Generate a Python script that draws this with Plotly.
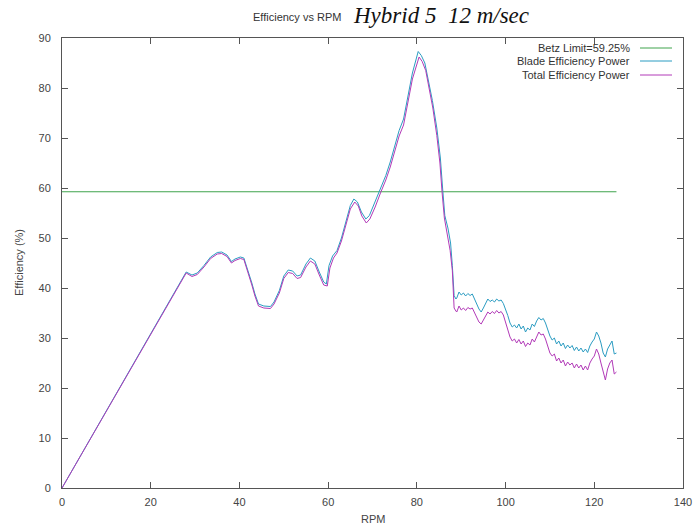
import plotly.graph_objects as go

# ---- data ----
blade_rpm = [0, 28, 29.3, 30.5, 32, 33.5, 35, 36, 37.2, 38.2, 39, 40.2, 41, 42, 42.8, 43.5, 44.3, 45.5, 47,
             47.8, 49, 50, 51, 52, 53, 53.8, 55, 56, 57, 58, 59, 59.6, 60.2, 61, 62, 63, 64, 65, 65.8, 66.6,
             67.5, 68.5, 69.3, 70.5, 71.7, 73, 74, 75, 76, 77, 78, 79, 80.3, 81, 81.8, 82.5, 83.5, 84.5, 85.3,
             85.8, 86.3, 87, 87.6, 88, 88.4, 88.8,
             89.0, 89.5, 90.0, 90.5, 91.0, 91.5, 92.0, 92.5, 93.0, 93.5, 94.0, 94.5, 95.0, 95.5, 96.0, 96.5,
             97.0, 97.5, 98.0, 98.5, 99.0, 99.5, 100.0, 100.5, 101.0, 101.5, 102.0, 102.5, 103.0, 103.5,
             104.0, 104.5, 105.0, 105.5, 106.0, 106.5, 107.0, 107.5, 108.0, 108.5, 109.0, 109.5, 110.0,
             110.5, 111.0, 111.5, 112.0, 112.5, 113.0, 113.5, 114.0, 114.5, 115.0, 115.5, 116.0, 116.5,
             117.0, 117.5, 118.0, 118.5, 119.0, 119.5, 120.0, 120.5, 121.0, 121.5, 122.0, 122.5, 123.0,
             123.5, 124.0, 124.5, 125.0]
blade_eff = [0, 43.2, 42.6, 43.0, 44.5, 46.2, 47.1, 47.2, 46.6, 45.3, 45.8, 46.2, 46.0, 43.4, 41.0, 38.8, 36.8,
             36.4, 36.3, 37.2, 39.5, 42.4, 43.6, 43.4, 42.4, 42.6, 44.8, 46.0, 45.4, 43.2, 41.2, 40.8, 44.5,
             46.4, 47.5, 50.0, 53.5, 56.5, 57.8, 57.2, 55.2, 53.8, 54.5, 57.0, 59.8, 62.5, 65.2, 68.5, 71.5,
             73.8, 78.5, 83.0, 87.3, 86.5, 85.0, 82.0, 77.5, 72.0, 66.0, 60.0, 54.5, 52.0, 49.0, 44.5, 38.5,
             37.8,
             38.0, 39.2, 38.6, 39.0, 38.4, 38.9, 38.5, 38.8, 37.6, 36.8, 35.8, 35.2, 36.0, 37.0, 37.8, 37.3,
             37.6, 37.2, 37.8, 37.4, 37.6, 36.9, 35.8, 34.5, 33.0, 32.2, 32.6, 32.0, 32.8, 31.8,
             32.4, 31.2, 32.0, 31.6, 32.8, 32.3, 33.4, 34.1, 33.6, 33.9, 33.0, 31.6, 30.4,
             29.6, 30.0, 28.8, 29.4, 28.4, 29.0, 27.9, 28.6, 28.0, 28.5, 27.5, 28.2, 27.4,
             28.0, 27.2, 27.8, 27.1, 28.4, 29.2, 29.8, 31.2, 30.4, 29.0, 27.0, 26.2, 27.8,
             28.6, 29.4, 26.8, 27.0]

total_rpm = [0, 28, 29.3, 30.5, 32, 33.5, 35, 36, 37.2, 38.2, 39, 40.2, 41, 42, 42.8, 43.5, 44.3, 45.5, 47,
             47.8, 49, 50, 51, 52, 53, 53.8, 55, 56, 57, 58, 59, 59.8, 60.4, 61.2, 62, 63, 64, 65, 66, 66.8,
             67.6, 68.6, 69.4, 70.6, 71.8, 73, 74, 75, 76, 77, 78, 79, 80.5, 81.2, 82, 82.7, 83.6, 84.5, 85.2,
             85.7, 86.2, 86.8, 87.5, 88, 88.4, 88.8,
             89.0, 89.5, 90.0, 90.5, 91.0, 91.5, 92.0, 92.5, 93.0, 93.5, 94.0, 94.5, 95.0, 95.5, 96.0, 96.5,
             97.0, 97.5, 98.0, 98.5, 99.0, 99.5, 100.0, 100.5, 101.0, 101.5, 102.0, 102.5, 103.0, 103.5,
             104.0, 104.5, 105.0, 105.5, 106.0, 106.5, 107.0, 107.5, 108.0, 108.5, 109.0, 109.5, 110.0,
             110.5, 111.0, 111.5, 112.0, 112.5, 113.0, 113.5, 114.0, 114.5, 115.0, 115.5, 116.0, 116.5,
             117.0, 117.5, 118.0, 118.5, 119.0, 119.5, 120.0, 120.5, 121.0, 121.5, 122.0, 122.5, 123.0,
             123.5, 124.0, 124.5, 125.0]
total_eff = [0, 43.0, 42.3, 42.7, 44.2, 45.9, 46.8, 46.9, 46.3, 45.0, 45.5, 45.9, 45.7, 43.0, 40.6, 38.4, 36.4,
             36.0, 35.9, 36.8, 39.0, 41.9, 43.1, 42.9, 41.9, 42.1, 44.2, 45.4, 44.8, 42.6, 40.6, 40.4, 44.0,
             46.0, 47.0, 49.4, 52.8, 55.8, 57.2, 56.4, 54.4, 53.0, 53.8, 56.2, 59.0, 61.6, 64.2, 67.4, 70.4,
             72.6, 77.2, 81.8, 86.2, 85.3, 83.5, 80.5, 76.0, 70.5, 65.0, 59.0, 54.0, 51.0, 47.5, 43.5, 36.0,
             35.4,
             35.2, 36.4, 35.6, 36.0, 35.5, 36.1, 35.8, 36.0, 35.0, 34.0, 33.2, 32.8, 33.6, 34.6, 35.2, 34.8,
             35.3, 34.9, 35.5, 35.0, 35.3, 34.6, 33.2, 31.8, 30.2, 29.4, 29.8, 29.0, 29.7, 28.8,
             29.4, 28.3, 29.0, 28.6, 29.8, 29.2, 30.4, 31.2, 30.6, 30.8, 29.8, 28.2, 27.0,
             26.4, 26.8, 25.4, 26.0, 25.0, 25.6, 24.4, 25.2, 24.6, 25.0, 24.0, 24.8, 24.0,
             24.6, 23.6, 24.4, 23.6, 25.0, 25.8, 26.4, 27.8, 26.8, 25.0, 23.0, 21.6, 23.8,
             25.0, 25.6, 22.8, 23.2]

betz_rpm = [0, 125]
betz_eff = [59.25, 59.25]

series_names = ["Betz Limit=59.25%", "Blade Efficiency Power", "Total Efficiency Power"]
colors = ["#3fa34d", "#2b9cc2", "#b23ab8"]

x_ticks = [0, 20, 40, 60, 80, 100, 120, 140]
y_ticks = [0, 10, 20, 30, 40, 50, 60, 70, 80, 90]

fig = go.Figure()
fig.add_trace(go.Scatter(x=betz_rpm, y=betz_eff, mode="lines", name=series_names[0],
                         line=dict(color=colors[0], width=1), showlegend=False))
fig.add_trace(go.Scatter(x=blade_rpm, y=blade_eff, mode="lines", name=series_names[1],
                         line=dict(color=colors[1], width=1), showlegend=False))
fig.add_trace(go.Scatter(x=total_rpm, y=total_eff, mode="lines", name=series_names[2],
                         line=dict(color=colors[2], width=1), showlegend=False))

L, R, T, B = 62, 12, 38, 40
W, H = 695, 528
pw, ph = W - L - R, H - T - B


def px2paper_x(px):
    return (px - L) / pw


def px2paper_y(py):
    return (H - B - py) / ph


annotations = []
shapes = []
# custom legend: text right-aligned, line sample to the right
legend_rows = [48, 61, 75]
for name, col, yy in zip(series_names, colors, legend_rows):
    annotations.append(dict(x=px2paper_x(632), y=px2paper_y(yy), xref="paper", yref="paper",
                            text=name, showarrow=False, xanchor="right", yanchor="middle",
                            font=dict(family="Liberation Sans, Arial", size=11, color="#333")))
    shapes.append(dict(type="line", xref="paper", yref="paper",
                       x0=px2paper_x(640), x1=px2paper_x(672),
                       y0=px2paper_y(yy), y1=px2paper_y(yy),
                       line=dict(color=col, width=1)))

annotations.append(dict(x=px2paper_x(297), y=px2paper_y(17), xref="paper", yref="paper",
                        text="Efficiency vs RPM", showarrow=False, xanchor="center", yanchor="middle",
                        font=dict(family="Liberation Sans, Arial", size=11, color="#333")))
annotations.append(dict(x=px2paper_x(351), y=px2paper_y(16), xref="paper", yref="paper",
                        text="<i>Hybrid 5  12 m/sec</i>", showarrow=False, xanchor="left", yanchor="middle",
                        font=dict(family="Liberation Serif, Times New Roman", size=23, color="#111")))
# axis titles
annotations.append(dict(x=px2paper_x(373), y=px2paper_y(519), xref="paper", yref="paper",
                        text="RPM", showarrow=False, xanchor="center", yanchor="middle",
                        font=dict(family="Liberation Sans, Arial", size=11, color="#444")))
annotations.append(dict(x=px2paper_x(19), y=px2paper_y(263), xref="paper", yref="paper",
                        text="Efficiency (%)", showarrow=False, xanchor="center", yanchor="middle",
                        textangle=-90,
                        font=dict(family="Liberation Sans, Arial", size=11, color="#444")))

fig.update_layout(
    width=W, height=H,
    margin=dict(l=L, r=R, t=T, b=B, autoexpand=False),
    paper_bgcolor="white", plot_bgcolor="white",
    font=dict(family="Liberation Sans, Arial", size=11, color="#444"),
    annotations=annotations, shapes=shapes,
    showlegend=False,
)
fig.update_xaxes(range=[0, 140], tickvals=x_ticks, ticks="inside", ticklen=6, tickcolor="#555",
                 showline=True, linecolor="#555", linewidth=1, mirror="ticks", showgrid=False,
                 zeroline=False, automargin=False, ticklabelstandoff=4)
fig.update_yaxes(range=[0, 90], tickvals=y_ticks, ticks="inside", ticklen=6, tickcolor="#555",
                 showline=True, linecolor="#555", linewidth=1, mirror="ticks", showgrid=False,
                 zeroline=False, automargin=False, ticklabelstandoff=8)

fig.write_html("out.html", config={"displayModeBar": False},
               post_script="document.body.style.margin='0';document.body.style.overflow='hidden';")
